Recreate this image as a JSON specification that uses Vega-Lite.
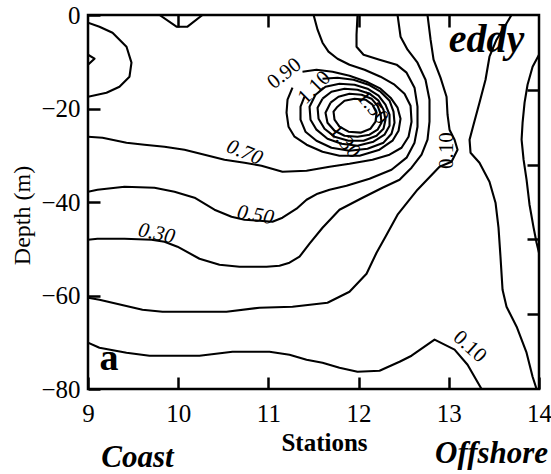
{
"$schema": "https://vega.github.io/schema/vega-lite/v6.json",
"width": 451, "height": 374, "autosize": "none",
"padding": {"left": 88, "top": 15, "right": 12, "bottom": 85},
"config": {"view": {"stroke": "black", "strokeWidth": 2.5}, "font": "Liberation Serif, Times New Roman, serif",
 "axis": {"grid": false, "domain": false, "tickColor": "black", "tickWidth": 2.5, "tickSize": -12, "labelColor": "black", "titleColor": "black", "labelFont": "Liberation Serif, Times New Roman, serif", "titleFont": "Liberation Serif, Times New Roman, serif"},
 "text": {"font": "Liberation Serif, Times New Roman, serif", "color": "black"}},
"datasets": {
"contours": [
{"id":"c1","i":0,"s":9.0,"d":-1.65},{"id":"c1","i":1,"s":9.127,"d":-2.5},{"id":"c1","i":2,"s":9.272,"d":-3.79},{"id":"c1","i":3,"s":9.427,"d":-6.78},{"id":"c1","i":4,"s":9.482,"d":-10.2},{"id":"c1","i":5,"s":9.46,"d":-13.2},{"id":"c1","i":6,"s":9.349,"d":-15.34},{"id":"c1","i":7,"s":9.205,"d":-16.62},{"id":"c1","i":8,"s":9.0,"d":-17.48},
{"id":"c2","i":0,"s":9.0,"d":-8.49},{"id":"c2","i":1,"s":9.072,"d":-9.35},{"id":"c2","i":2,"s":9.0,"d":-10.63},
{"id":"c3","i":0,"s":9.793,"d":0},{"id":"c3","i":1,"s":9.981,"d":-2.5},{"id":"c3","i":2,"s":10.103,"d":-2.5},{"id":"c3","i":3,"s":10.269,"d":0},
{"id":"c070","i":0,"s":9.0,"d":-26.03},{"id":"c070","i":1,"s":9.161,"d":-26.25},{"id":"c070","i":2,"s":9.427,"d":-27.31},{"id":"c070","i":3,"s":9.626,"d":-27.74},{"id":"c070","i":4,"s":9.848,"d":-28.17},{"id":"c070","i":5,"s":10.07,"d":-28.81},{"id":"c070","i":6,"s":10.292,"d":-29.88},{"id":"c070","i":7,"s":10.513,"d":-30.95},{"id":"c070","i":8,"s":10.735,"d":-31.59},{"id":"c070","i":9,"s":10.923,"d":-32.24},{"id":"c070","i":10,"s":11.156,"d":-33.52},{"id":"c070","i":11,"s":11.423,"d":-33.31},{"id":"c070","i":12,"s":11.678,"d":-32.45},{"id":"c070","i":13,"s":11.899,"d":-31.81},{"id":"c070","i":14,"s":12.154,"d":-30.95},{"id":"c070","i":15,"s":12.343,"d":-29.88},{"id":"c070","i":16,"s":12.476,"d":-28.39},{"id":"c070","i":17,"s":12.554,"d":-26.03},{"id":"c070","i":18,"s":12.587,"d":-22.82},{"id":"c070","i":19,"s":12.576,"d":-19.4},{"id":"c070","i":20,"s":12.509,"d":-16.83},{"id":"c070","i":21,"s":12.398,"d":-14.91},{"id":"c070","i":22,"s":12.243,"d":-13.2},{"id":"c070","i":23,"s":12.066,"d":-11.7},{"id":"c070","i":24,"s":11.899,"d":-10.63},{"id":"c070","i":25,"s":11.766,"d":-9.35},{"id":"c070","i":26,"s":11.666,"d":-7.85},{"id":"c070","i":27,"s":11.6,"d":-5.93},{"id":"c070","i":28,"s":11.545,"d":-3.14},{"id":"c070","i":29,"s":11.501,"d":0},
{"id":"c050","i":0,"s":9.0,"d":-37.8},{"id":"c050","i":1,"s":9.105,"d":-37.37},{"id":"c050","i":2,"s":9.405,"d":-36.73},{"id":"c050","i":3,"s":9.737,"d":-36.94},{"id":"c050","i":4,"s":9.959,"d":-37.8},{"id":"c050","i":5,"s":10.181,"d":-39.08},{"id":"c050","i":6,"s":10.402,"d":-41.65},{"id":"c050","i":7,"s":10.591,"d":-43.14},{"id":"c050","i":8,"s":10.735,"d":-43.79},{"id":"c050","i":9,"s":10.901,"d":-44.0},{"id":"c050","i":10,"s":11.045,"d":-44.21},{"id":"c050","i":11,"s":11.156,"d":-43.36},{"id":"c050","i":12,"s":11.312,"d":-41.43},{"id":"c050","i":13,"s":11.423,"d":-39.51},{"id":"c050","i":14,"s":11.545,"d":-38.22},{"id":"c050","i":15,"s":11.678,"d":-37.37},{"id":"c050","i":16,"s":11.866,"d":-36.51},{"id":"c050","i":17,"s":12.121,"d":-35.02},{"id":"c050","i":18,"s":12.365,"d":-33.09},{"id":"c050","i":19,"s":12.532,"d":-30.52},{"id":"c050","i":20,"s":12.62,"d":-27.31},{"id":"c050","i":21,"s":12.653,"d":-23.89},{"id":"c050","i":22,"s":12.653,"d":-19.61},{"id":"c050","i":23,"s":12.62,"d":-15.55},{"id":"c050","i":24,"s":12.532,"d":-12.34},{"id":"c050","i":25,"s":12.421,"d":-10.63},{"id":"c050","i":26,"s":12.232,"d":-9.56},{"id":"c050","i":27,"s":12.055,"d":-8.49},{"id":"c050","i":28,"s":11.977,"d":-6.78},{"id":"c050","i":29,"s":11.977,"d":-4.21},{"id":"c050","i":30,"s":11.988,"d":0},
{"id":"c030","i":0,"s":9.0,"d":-48.06},{"id":"c030","i":1,"s":9.105,"d":-47.85},{"id":"c030","i":2,"s":9.405,"d":-47.85},{"id":"c030","i":3,"s":9.704,"d":-48.06},{"id":"c030","i":4,"s":9.848,"d":-48.49},{"id":"c030","i":5,"s":9.992,"d":-49.56},{"id":"c030","i":6,"s":10.236,"d":-52.13},{"id":"c030","i":7,"s":10.458,"d":-53.41},{"id":"c030","i":8,"s":10.68,"d":-53.84},{"id":"c030","i":9,"s":10.979,"d":-53.84},{"id":"c030","i":10,"s":11.123,"d":-53.63},{"id":"c030","i":11,"s":11.234,"d":-52.98},{"id":"c030","i":12,"s":11.345,"d":-51.7},{"id":"c030","i":13,"s":11.456,"d":-48.92},{"id":"c030","i":14,"s":11.6,"d":-45.5},{"id":"c030","i":15,"s":11.788,"d":-41.65},{"id":"c030","i":16,"s":12.044,"d":-39.08},{"id":"c030","i":17,"s":12.265,"d":-36.94},{"id":"c030","i":18,"s":12.454,"d":-35.23},{"id":"c030","i":19,"s":12.587,"d":-32.66},{"id":"c030","i":20,"s":12.698,"d":-29.88},{"id":"c030","i":21,"s":12.764,"d":-26.67},{"id":"c030","i":22,"s":12.786,"d":-22.82},{"id":"c030","i":23,"s":12.786,"d":-18.12},{"id":"c030","i":24,"s":12.742,"d":-13.84},{"id":"c030","i":25,"s":12.653,"d":-10.2},{"id":"c030","i":26,"s":12.543,"d":-7.42},{"id":"c030","i":27,"s":12.465,"d":-4.64},{"id":"c030","i":28,"s":12.432,"d":0},
{"id":"c010s","i":0,"s":9.0,"d":-60.47},{"id":"c010s","i":1,"s":9.127,"d":-60.9},{"id":"c010s","i":2,"s":9.604,"d":-63.04},{"id":"c010s","i":3,"s":9.826,"d":-63.46},{"id":"c010s","i":4,"s":10.535,"d":-63.46},{"id":"c010s","i":5,"s":10.901,"d":-62.61},{"id":"c010s","i":6,"s":11.267,"d":-62.4},{"id":"c010s","i":7,"s":11.655,"d":-61.54},{"id":"c010s","i":8,"s":11.899,"d":-59.19},{"id":"c010s","i":9,"s":12.088,"d":-55.34},{"id":"c010s","i":10,"s":12.199,"d":-50.85},{"id":"c010s","i":11,"s":12.298,"d":-47.42},{"id":"c010s","i":12,"s":12.432,"d":-42.72},{"id":"c010s","i":13,"s":12.653,"d":-37.37},{"id":"c010s","i":14,"s":12.897,"d":-32.45},{"id":"c010s","i":15,"s":13.03,"d":-31.38},{"id":"c010s","i":16,"s":13.097,"d":-28.81},{"id":"c010s","i":17,"s":13.064,"d":-26.67},{"id":"c010s","i":18,"s":13.008,"d":-24.53},{"id":"c010s","i":19,"s":12.986,"d":-21.33},{"id":"c010s","i":20,"s":12.975,"d":-17.48},{"id":"c010s","i":21,"s":12.908,"d":-13.41},{"id":"c010s","i":22,"s":12.831,"d":-9.56},{"id":"c010s","i":23,"s":12.798,"d":-5.28},{"id":"c010s","i":24,"s":12.764,"d":0},
{"id":"c010r","i":0,"s":13.695,"d":0},{"id":"c010r","i":1,"s":13.618,"d":-2.5},{"id":"c010r","i":2,"s":13.529,"d":-5.28},{"id":"c010r","i":3,"s":13.451,"d":-8.92},{"id":"c010r","i":4,"s":13.407,"d":-13.84},{"id":"c010r","i":5,"s":13.34,"d":-18.76},{"id":"c010r","i":6,"s":13.274,"d":-23.47},{"id":"c010r","i":7,"s":13.23,"d":-26.67},{"id":"c010r","i":8,"s":13.241,"d":-29.45},{"id":"c010r","i":9,"s":13.34,"d":-31.59},{"id":"c010r","i":10,"s":13.451,"d":-35.66},{"id":"c010r","i":11,"s":13.518,"d":-40.15},{"id":"c010r","i":12,"s":13.551,"d":-45.49},{"id":"c010r","i":13,"s":13.573,"d":-51.7},{"id":"c010r","i":14,"s":13.596,"d":-58.76},{"id":"c010r","i":15,"s":13.64,"d":-62.4},{"id":"c010r","i":16,"s":13.752,"d":-66.67},{"id":"c010r","i":17,"s":13.862,"d":-72.23},{"id":"c010r","i":18,"s":13.929,"d":-77.37},{"id":"c010r","i":19,"s":13.973,"d":-80},
{"id":"cR","i":0,"s":14.0,"d":-8.49},{"id":"cR","i":1,"s":13.929,"d":-11.06},{"id":"cR","i":2,"s":13.873,"d":-14.91},{"id":"cR","i":3,"s":13.84,"d":-18.76},{"id":"cR","i":4,"s":13.818,"d":-23.04},{"id":"cR","i":5,"s":13.807,"d":-26.67},{"id":"cR","i":6,"s":13.829,"d":-30.95},{"id":"cR","i":7,"s":13.862,"d":-35.23},{"id":"cR","i":8,"s":13.895,"d":-40.58},{"id":"cR","i":9,"s":13.94,"d":-45.49},{"id":"cR","i":10,"s":13.973,"d":-48.71},{"id":"cR","i":11,"s":14.0,"d":-50.85},
{"id":"c010b","i":0,"s":9.0,"d":-70.1},{"id":"c010b","i":1,"s":9.127,"d":-71.17},{"id":"c010b","i":2,"s":9.427,"d":-72.23},{"id":"c010b","i":3,"s":9.682,"d":-72.88},{"id":"c010b","i":4,"s":10.236,"d":-72.88},{"id":"c010b","i":5,"s":10.602,"d":-72.02},{"id":"c010b","i":6,"s":11.012,"d":-72.02},{"id":"c010b","i":7,"s":11.234,"d":-72.66},{"id":"c010b","i":8,"s":11.423,"d":-73.73},{"id":"c010b","i":9,"s":11.6,"d":-74.38},{"id":"c010b","i":10,"s":11.788,"d":-75.44},{"id":"c010b","i":11,"s":11.988,"d":-76.3},{"id":"c010b","i":12,"s":12.232,"d":-76.09},{"id":"c010b","i":13,"s":12.454,"d":-74.16},{"id":"c010b","i":14,"s":12.587,"d":-72.88},{"id":"c010b","i":15,"s":12.842,"d":-69.45},{"id":"c010b","i":16,"s":13.064,"d":-71.59},{"id":"c010b","i":17,"s":13.208,"d":-74.8},{"id":"c010b","i":18,"s":13.363,"d":-80},
{"id":"e1","i":0,"s":11.378,"d":-12.13},{"id":"e1","i":1,"s":11.533,"d":-11.7},{"id":"e1","i":2,"s":11.711,"d":-12.13},{"id":"e1","i":3,"s":11.899,"d":-12.98},{"id":"e1","i":4,"s":12.088,"d":-14.27},{"id":"e1","i":5,"s":12.243,"d":-15.76},{"id":"e1","i":6,"s":12.354,"d":-17.69},{"id":"e1","i":7,"s":12.432,"d":-19.83},{"id":"e1","i":8,"s":12.465,"d":-22.18},{"id":"e1","i":9,"s":12.443,"d":-24.75},{"id":"e1","i":10,"s":12.376,"d":-26.89},{"id":"e1","i":11,"s":12.232,"d":-28.81},{"id":"e1","i":12,"s":12.011,"d":-30.1},{"id":"e1","i":13,"s":11.788,"d":-30.1},{"id":"e1","i":14,"s":11.6,"d":-29.24},{"id":"e1","i":15,"s":11.423,"d":-27.74},{"id":"e1","i":16,"s":11.29,"d":-26.03},{"id":"e1","i":17,"s":11.223,"d":-23.89},{"id":"e1","i":18,"s":11.201,"d":-20.9},{"id":"e1","i":19,"s":11.212,"d":-18.12},{"id":"e1","i":20,"s":11.267,"d":-15.55},
{"id":"e2","i":0,"s":11.6,"d":-13.63},{"id":"e2","i":1,"s":11.766,"d":-13.41},{"id":"e2","i":2,"s":11.944,"d":-13.84},{"id":"e2","i":3,"s":12.11,"d":-14.91},{"id":"e2","i":4,"s":12.243,"d":-16.41},{"id":"e2","i":5,"s":12.343,"d":-18.33},{"id":"e2","i":6,"s":12.387,"d":-20.68},{"id":"e2","i":7,"s":12.398,"d":-23.04},{"id":"e2","i":8,"s":12.365,"d":-25.39},{"id":"e2","i":9,"s":12.276,"d":-27.31},{"id":"e2","i":10,"s":12.099,"d":-28.6},{"id":"e2","i":11,"s":11.899,"d":-29.03},{"id":"e2","i":12,"s":11.699,"d":-28.39},{"id":"e2","i":13,"s":11.533,"d":-26.89},{"id":"e2","i":14,"s":11.411,"d":-24.96},{"id":"e2","i":15,"s":11.356,"d":-22.4},{"id":"e2","i":16,"s":11.356,"d":-19.61},{"id":"e2","i":17,"s":11.4,"d":-17.48},
{"id":"e3","i":0,"s":11.522,"d":-17.05},{"id":"e3","i":1,"s":11.633,"d":-15.34},{"id":"e3","i":2,"s":11.788,"d":-14.7},{"id":"e3","i":3,"s":11.955,"d":-14.91},{"id":"e3","i":4,"s":12.099,"d":-15.76},{"id":"e3","i":5,"s":12.221,"d":-17.26},{"id":"e3","i":6,"s":12.298,"d":-19.19},{"id":"e3","i":7,"s":12.343,"d":-21.33},{"id":"e3","i":8,"s":12.343,"d":-23.68},{"id":"e3","i":9,"s":12.287,"d":-25.6},{"id":"e3","i":10,"s":12.165,"d":-27.1},{"id":"e3","i":11,"s":11.988,"d":-27.96},{"id":"e3","i":12,"s":11.811,"d":-27.53},{"id":"e3","i":13,"s":11.655,"d":-26.46},{"id":"e3","i":14,"s":11.533,"d":-24.53},{"id":"e3","i":15,"s":11.467,"d":-22.4},{"id":"e3","i":16,"s":11.456,"d":-19.61},{"id":"e3","i":17,"s":11.522,"d":-17.05},
{"id":"e4","i":0,"s":11.6,"d":-17.9},{"id":"e4","i":1,"s":11.699,"d":-16.41},{"id":"e4","i":2,"s":11.844,"d":-15.76},{"id":"e4","i":3,"s":11.988,"d":-15.98},{"id":"e4","i":4,"s":12.121,"d":-16.83},{"id":"e4","i":5,"s":12.221,"d":-18.33},{"id":"e4","i":6,"s":12.276,"d":-20.26},{"id":"e4","i":7,"s":12.298,"d":-22.4},{"id":"e4","i":8,"s":12.276,"d":-24.32},{"id":"e4","i":9,"s":12.199,"d":-25.82},{"id":"e4","i":10,"s":12.055,"d":-26.89},{"id":"e4","i":11,"s":11.888,"d":-26.89},{"id":"e4","i":12,"s":11.733,"d":-26.03},{"id":"e4","i":13,"s":11.622,"d":-24.32},{"id":"e4","i":14,"s":11.556,"d":-22.18},{"id":"e4","i":15,"s":11.545,"d":-19.83},{"id":"e4","i":16,"s":11.6,"d":-17.9},
{"id":"e5","i":0,"s":11.689,"d":-18.76},{"id":"e5","i":1,"s":11.777,"d":-17.48},{"id":"e5","i":2,"s":11.899,"d":-16.83},{"id":"e5","i":3,"s":12.033,"d":-17.05},{"id":"e5","i":4,"s":12.143,"d":-17.9},{"id":"e5","i":5,"s":12.21,"d":-19.4},{"id":"e5","i":6,"s":12.243,"d":-21.11},{"id":"e5","i":7,"s":12.254,"d":-23.04},{"id":"e5","i":8,"s":12.21,"d":-24.53},{"id":"e5","i":9,"s":12.121,"d":-25.6},{"id":"e5","i":10,"s":11.988,"d":-26.03},{"id":"e5","i":11,"s":11.844,"d":-25.82},{"id":"e5","i":12,"s":11.733,"d":-24.75},{"id":"e5","i":13,"s":11.655,"d":-23.04},{"id":"e5","i":14,"s":11.633,"d":-20.9},{"id":"e5","i":15,"s":11.689,"d":-18.76},
{"id":"e6","i":0,"s":11.766,"d":-19.61},{"id":"e6","i":1,"s":11.844,"d":-18.33},{"id":"e6","i":2,"s":11.955,"d":-17.9},{"id":"e6","i":3,"s":12.077,"d":-18.12},{"id":"e6","i":4,"s":12.154,"d":-19.19},{"id":"e6","i":5,"s":12.199,"d":-20.9},{"id":"e6","i":6,"s":12.188,"d":-22.82},{"id":"e6","i":7,"s":12.132,"d":-24.32},{"id":"e6","i":8,"s":12.022,"d":-25.17},{"id":"e6","i":9,"s":11.888,"d":-24.96},{"id":"e6","i":10,"s":11.788,"d":-23.89},{"id":"e6","i":11,"s":11.733,"d":-22.4},{"id":"e6","i":12,"s":11.722,"d":-20.68},{"id":"e6","i":13,"s":11.766,"d":-19.61}
]},
"encoding": {
 "x": {"field": "s", "type": "quantitative", "scale": {"domain": [9, 14], "nice": false, "zero": false}, "axis": null},
 "y": {"field": "d", "type": "quantitative", "scale": {"domain": [-80, 0], "nice": false, "zero": false}, "axis": null}
},
"resolve": {"axis": {"x": "independent", "y": "independent"}},
"layer": [
{"data": {"name": "contours"},
 "mark": {"type": "line", "color": "black", "strokeWidth": 2.1, "clip": true, "strokeJoin": "round"},
 "encoding": {
  "x": {"field": "s", "type": "quantitative", "scale": {"domain": [9, 14], "nice": false, "zero": false},
   "axis": {"orient": "bottom", "values": [9, 10, 11, 12, 13, 14], "labelFont": "Liberation Serif, Times New Roman, serif", "labelFontSize": 25, "labelPadding": 24, "labelFlush": false, "title": "Stations", "titleFont": "Liberation Serif, Times New Roman, serif", "titleFontSize": 25, "titleFontWeight": "bold", "titleX": 236, "titleY": 61, "titleBaseline": "alphabetic", "titleAlign": "center"}},
  "y": {"field": "d", "type": "quantitative", "scale": {"domain": [-80, 0], "nice": false, "zero": false},
   "axis": {"orient": "left", "values": [0, -20, -40, -60, -80], "labelFont": "Liberation Serif, Times New Roman, serif", "labelFontSize": 25, "labelPadding": 20, "labelFlush": false, "title": "Depth (m)", "titleFont": "Liberation Serif, Times New Roman, serif", "titleFontSize": 24, "titleFontWeight": "normal", "titleX": -66, "titleY": 200, "titleAngle": 270, "titleAlign": "center", "titleBaseline": "middle"}},
  "detail": {"field": "id", "type": "nominal"},
  "order": {"field": "i", "type": "quantitative"}
 }},
{"data": {"values": [{"s": 13.418, "d": -7.85, "t": "eddy"}]},
 "mark": {"type": "text", "font": "Liberation Serif, Times New Roman, serif", "fontSize": 40, "fontWeight": "bold", "fontStyle": "italic", "align": "center", "baseline": "alphabetic"},
 "encoding": {"text": {"field": "t"},
  "x": {"field": "s", "type": "quantitative", "scale": {"domain": [9, 14], "nice": false, "zero": false}, "axis": {"orient": "top", "values": [10, 11, 12, 13], "labels": false, "title": null}},
  "y": {"field": "d", "type": "quantitative", "scale": {"domain": [-80, 0], "nice": false, "zero": false}, "axis": {"orient": "right", "values": [-16, -32, -48, -64], "labels": false, "title": null}}}},
{"data": {"values": [{"s": 9.127, "d": -75.87, "t": "a"}]},
 "mark": {"type": "text", "font": "Liberation Serif, Times New Roman, serif", "fontSize": 38, "fontWeight": "bold", "align": "left", "baseline": "alphabetic"},
 "encoding": {"text": {"field": "t"}}},
{"data": {"values": [{"s": 9.549, "d": -96.62, "t": "Coast"}, {"s": 13.474, "d": -95.9, "t": "Offshore"}]},
 "mark": {"type": "text", "font": "Liberation Serif, Times New Roman, serif", "fontSize": 31, "fontWeight": "bold", "fontStyle": "italic", "align": "center", "baseline": "alphabetic"},
 "encoding": {"text": {"field": "t"}}},
{"data": {"values": [{"s": 10.735, "d": -29.45, "t": "0.70"}]},
 "mark": {"type": "text", "font": "Liberation Serif, Times New Roman, serif", "fontSize": 21, "fontStyle": "italic", "angle": 22, "align": "center", "baseline": "middle"},
 "encoding": {"text": {"field": "t"}}},
{"data": {"values": [{"s": 10.857, "d": -42.82, "t": "0.50"}]},
 "mark": {"type": "text", "font": "Liberation Serif, Times New Roman, serif", "fontSize": 21, "fontStyle": "italic", "angle": 10, "align": "center", "baseline": "middle"},
 "encoding": {"text": {"field": "t"}}},
{"data": {"values": [{"s": 9.759, "d": -46.78, "t": "0.30"}]},
 "mark": {"type": "text", "font": "Liberation Serif, Times New Roman, serif", "fontSize": 21, "fontStyle": "italic", "angle": 12, "align": "center", "baseline": "middle"},
 "encoding": {"text": {"field": "t"}}},
{"data": {"values": [{"s": 11.178, "d": -12.56, "t": "0.90"}]},
 "mark": {"type": "text", "font": "Liberation Serif, Times New Roman, serif", "fontSize": 21, "angle": -38, "align": "center", "baseline": "middle"},
 "encoding": {"text": {"field": "t"}}},
{"data": {"values": [{"s": 11.511, "d": -15.55, "t": "1.10"}]},
 "mark": {"type": "text", "font": "Liberation Serif, Times New Roman, serif", "fontSize": 21, "angle": -45, "align": "center", "baseline": "middle"},
 "encoding": {"text": {"field": "t"}}},
{"data": {"values": [{"s": 12.154, "d": -19.83, "t": "1.50"}]},
 "mark": {"type": "text", "font": "Liberation Serif, Times New Roman, serif", "fontSize": 21, "angle": 50, "align": "center", "baseline": "middle"},
 "encoding": {"text": {"field": "t"}}},
{"data": {"values": [{"s": 11.844, "d": -27.1, "t": "1.30"}]},
 "mark": {"type": "text", "font": "Liberation Serif, Times New Roman, serif", "fontSize": 21, "angle": 50, "align": "center", "baseline": "middle"},
 "encoding": {"text": {"field": "t"}}},
{"data": {"values": [{"s": 12.975, "d": -29.03, "t": "0.10"}]},
 "mark": {"type": "text", "font": "Liberation Serif, Times New Roman, serif", "fontSize": 21, "angle": -90, "align": "center", "baseline": "middle"},
 "encoding": {"text": {"field": "t"}}},
{"data": {"values": [{"s": 13.23, "d": -70.96, "t": "0.10"}]},
 "mark": {"type": "text", "font": "Liberation Serif, Times New Roman, serif", "fontSize": 21, "angle": 42, "align": "center", "baseline": "middle"},
 "encoding": {"text": {"field": "t"}}}
]
}
